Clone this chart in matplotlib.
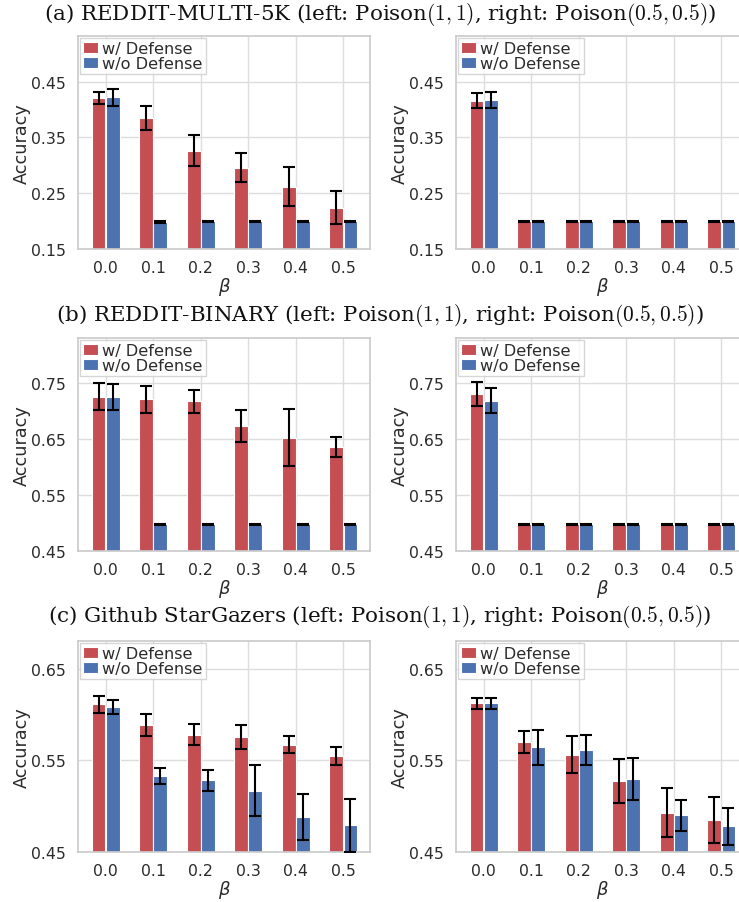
import numpy as np
import matplotlib
matplotlib.use("Agg")
import matplotlib.pyplot as plt
import seaborn as sns

sns.set_theme(style="whitegrid")
plt.rcParams['font.family'] = ['DejaVu Sans']
plt.rcParams['mathtext.fontset'] = 'dejavusans'

betas = [0.0, 0.1, 0.2, 0.3, 0.4, 0.5]
tick_labels = ["0.0", "0.1", "0.2", "0.3", "0.4", "0.5"]
legend_labels = ["w/ Defense", "w/o Defense"]

titles = [
    r"(a) REDDIT-MULTI-5K (left: Poison$(1,1)$, right: Poison$(0.5,0.5)$)",
    r"(b) REDDIT-BINARY (left: Poison$(1,1)$, right: Poison$(0.5,0.5)$)",
    r"(c) Github StarGazers (left: Poison$(1,1)$, right: Poison$(0.5,0.5)$)",
]

# (a) REDDIT-MULTI-5K
a_left_def = [0.421, 0.385, 0.326, 0.296, 0.262, 0.224]
a_left_def_err = [0.011, 0.022, 0.028, 0.026, 0.035, 0.030]
a_left_nodef = [0.422, 0.199, 0.200, 0.200, 0.200, 0.200]
a_left_nodef_err = [0.015, 0.002, 0.001, 0.001, 0.001, 0.001]
a_right_def = [0.416, 0.200, 0.200, 0.200, 0.200, 0.200]
a_right_def_err = [0.014, 0.001, 0.001, 0.001, 0.001, 0.001]
a_right_nodef = [0.417, 0.200, 0.200, 0.200, 0.200, 0.200]
a_right_nodef_err = [0.015, 0.001, 0.001, 0.001, 0.001, 0.001]

# (b) REDDIT-BINARY
b_left_def = [0.725, 0.721, 0.717, 0.673, 0.652, 0.635]
b_left_def_err = [0.024, 0.024, 0.021, 0.028, 0.051, 0.018]
b_left_nodef = [0.725, 0.498, 0.498, 0.498, 0.498, 0.498]
b_left_nodef_err = [0.023, 0.001, 0.001, 0.001, 0.001, 0.001]
b_right_def = [0.730, 0.498, 0.498, 0.498, 0.498, 0.498]
b_right_def_err = [0.021, 0.001, 0.001, 0.001, 0.001, 0.001]
b_right_nodef = [0.718, 0.498, 0.498, 0.498, 0.498, 0.498]
b_right_nodef_err = [0.022, 0.001, 0.001, 0.001, 0.001, 0.001]

# (c) Github StarGazers
c_left_def = [0.611, 0.588, 0.578, 0.575, 0.567, 0.555]
c_left_def_err = [0.009, 0.012, 0.011, 0.013, 0.009, 0.010]
c_left_nodef = [0.608, 0.533, 0.528, 0.517, 0.488, 0.479]
c_left_nodef_err = [0.008, 0.009, 0.011, 0.028, 0.025, 0.029]
c_right_def = [0.612, 0.570, 0.556, 0.527, 0.493, 0.485]
c_right_def_err = [0.006, 0.012, 0.020, 0.024, 0.027, 0.025]
c_right_nodef = [0.612, 0.564, 0.561, 0.530, 0.490, 0.478]
c_right_nodef_err = [0.006, 0.019, 0.016, 0.023, 0.017, 0.020]

panels = [
    [(a_left_def, a_left_def_err, a_left_nodef, a_left_nodef_err),
     (a_right_def, a_right_def_err, a_right_nodef, a_right_nodef_err)],
    [(b_left_def, b_left_def_err, b_left_nodef, b_left_nodef_err),
     (b_right_def, b_right_def_err, b_right_nodef, b_right_nodef_err)],
    [(c_left_def, c_left_def_err, c_left_nodef, c_left_nodef_err),
     (c_right_def, c_right_def_err, c_right_nodef, c_right_nodef_err)],
]
yticks = [[0.15, 0.25, 0.35, 0.45], [0.45, 0.55, 0.65, 0.75], [0.45, 0.55, 0.65]]
ylims = [(0.15, 0.532), (0.45, 0.83), (0.45, 0.68)]

W, H = 739, 903
fig = plt.figure(figsize=(W / 100, H / 100), dpi=100)

red = "#C44E52"
blue = "#4C72B0"
text_col = "#2b2b2b"

row_tops = [37, 339, 642]
row_bots = [250, 552, 853]
title_y = [14, 316, 617]
col_lefts = [78, 456]
ax_w = 292

x = np.arange(len(betas))
bw = 0.29
off = 0.148

for r in range(3):
    fig.text(0.514, 1 - title_y[r] / H, titles[r], ha='center', va='center',
             family='DejaVu Serif', fontsize=15.4, color='#111111',
             math_fontfamily='cm')
    for c in range(2):
        d, de, n, ne = panels[r][c]
        ax = fig.add_axes([col_lefts[c] / W, 1 - row_bots[r] / H,
                           ax_w / W, (row_bots[r] - row_tops[r]) / H])
        ax.bar(x - off, d, bw, color=red, edgecolor='white', linewidth=0.8,
               label=legend_labels[0], zorder=2)
        ax.bar(x + off, n, bw, color=blue, edgecolor='white', linewidth=0.8,
               label=legend_labels[1], zorder=2)
        ax.errorbar(x - off, d, yerr=de, fmt='none', ecolor='black',
                    elinewidth=1.5, capsize=4, capthick=1.5, zorder=3)
        ax.errorbar(x + off, n, yerr=ne, fmt='none', ecolor='black',
                    elinewidth=1.5, capsize=4, capthick=1.5, zorder=3)
        ax.set_xlim(-0.58, 5.56)
        ax.set_ylim(*ylims[r])
        ax.set_yticks(yticks[r])
        ax.set_yticklabels([f"{t:.2f}" for t in yticks[r]])
        ax.set_xticks(x)
        ax.set_xticklabels(tick_labels)
        ax.tick_params(labelsize=11.3, colors=text_col, pad=3)
        ax.tick_params(axis='x', pad=2)
        ax.set_xlabel(r"$\beta$", fontsize=13, color=text_col, labelpad=0)
        ax.set_ylabel("Accuracy", fontsize=12.7, color=text_col, labelpad=0)
        ax.grid(True, color='#dddddd', linewidth=1)
        for s in ax.spines.values():
            s.set_color('#cccccc')
        leg = ax.legend(loc='upper left', fontsize=11.6, frameon=True,
                        borderaxespad=0.1, borderpad=0.2, labelspacing=0.0,
                        handlelength=0.95, handleheight=0.65, handletextpad=0.25,
                        fancybox=False)
        leg.get_frame().set_edgecolor('#cccccc')
        for t in leg.get_texts():
            t.set_color(text_col)

fig.savefig("out.png", dpi=100)
